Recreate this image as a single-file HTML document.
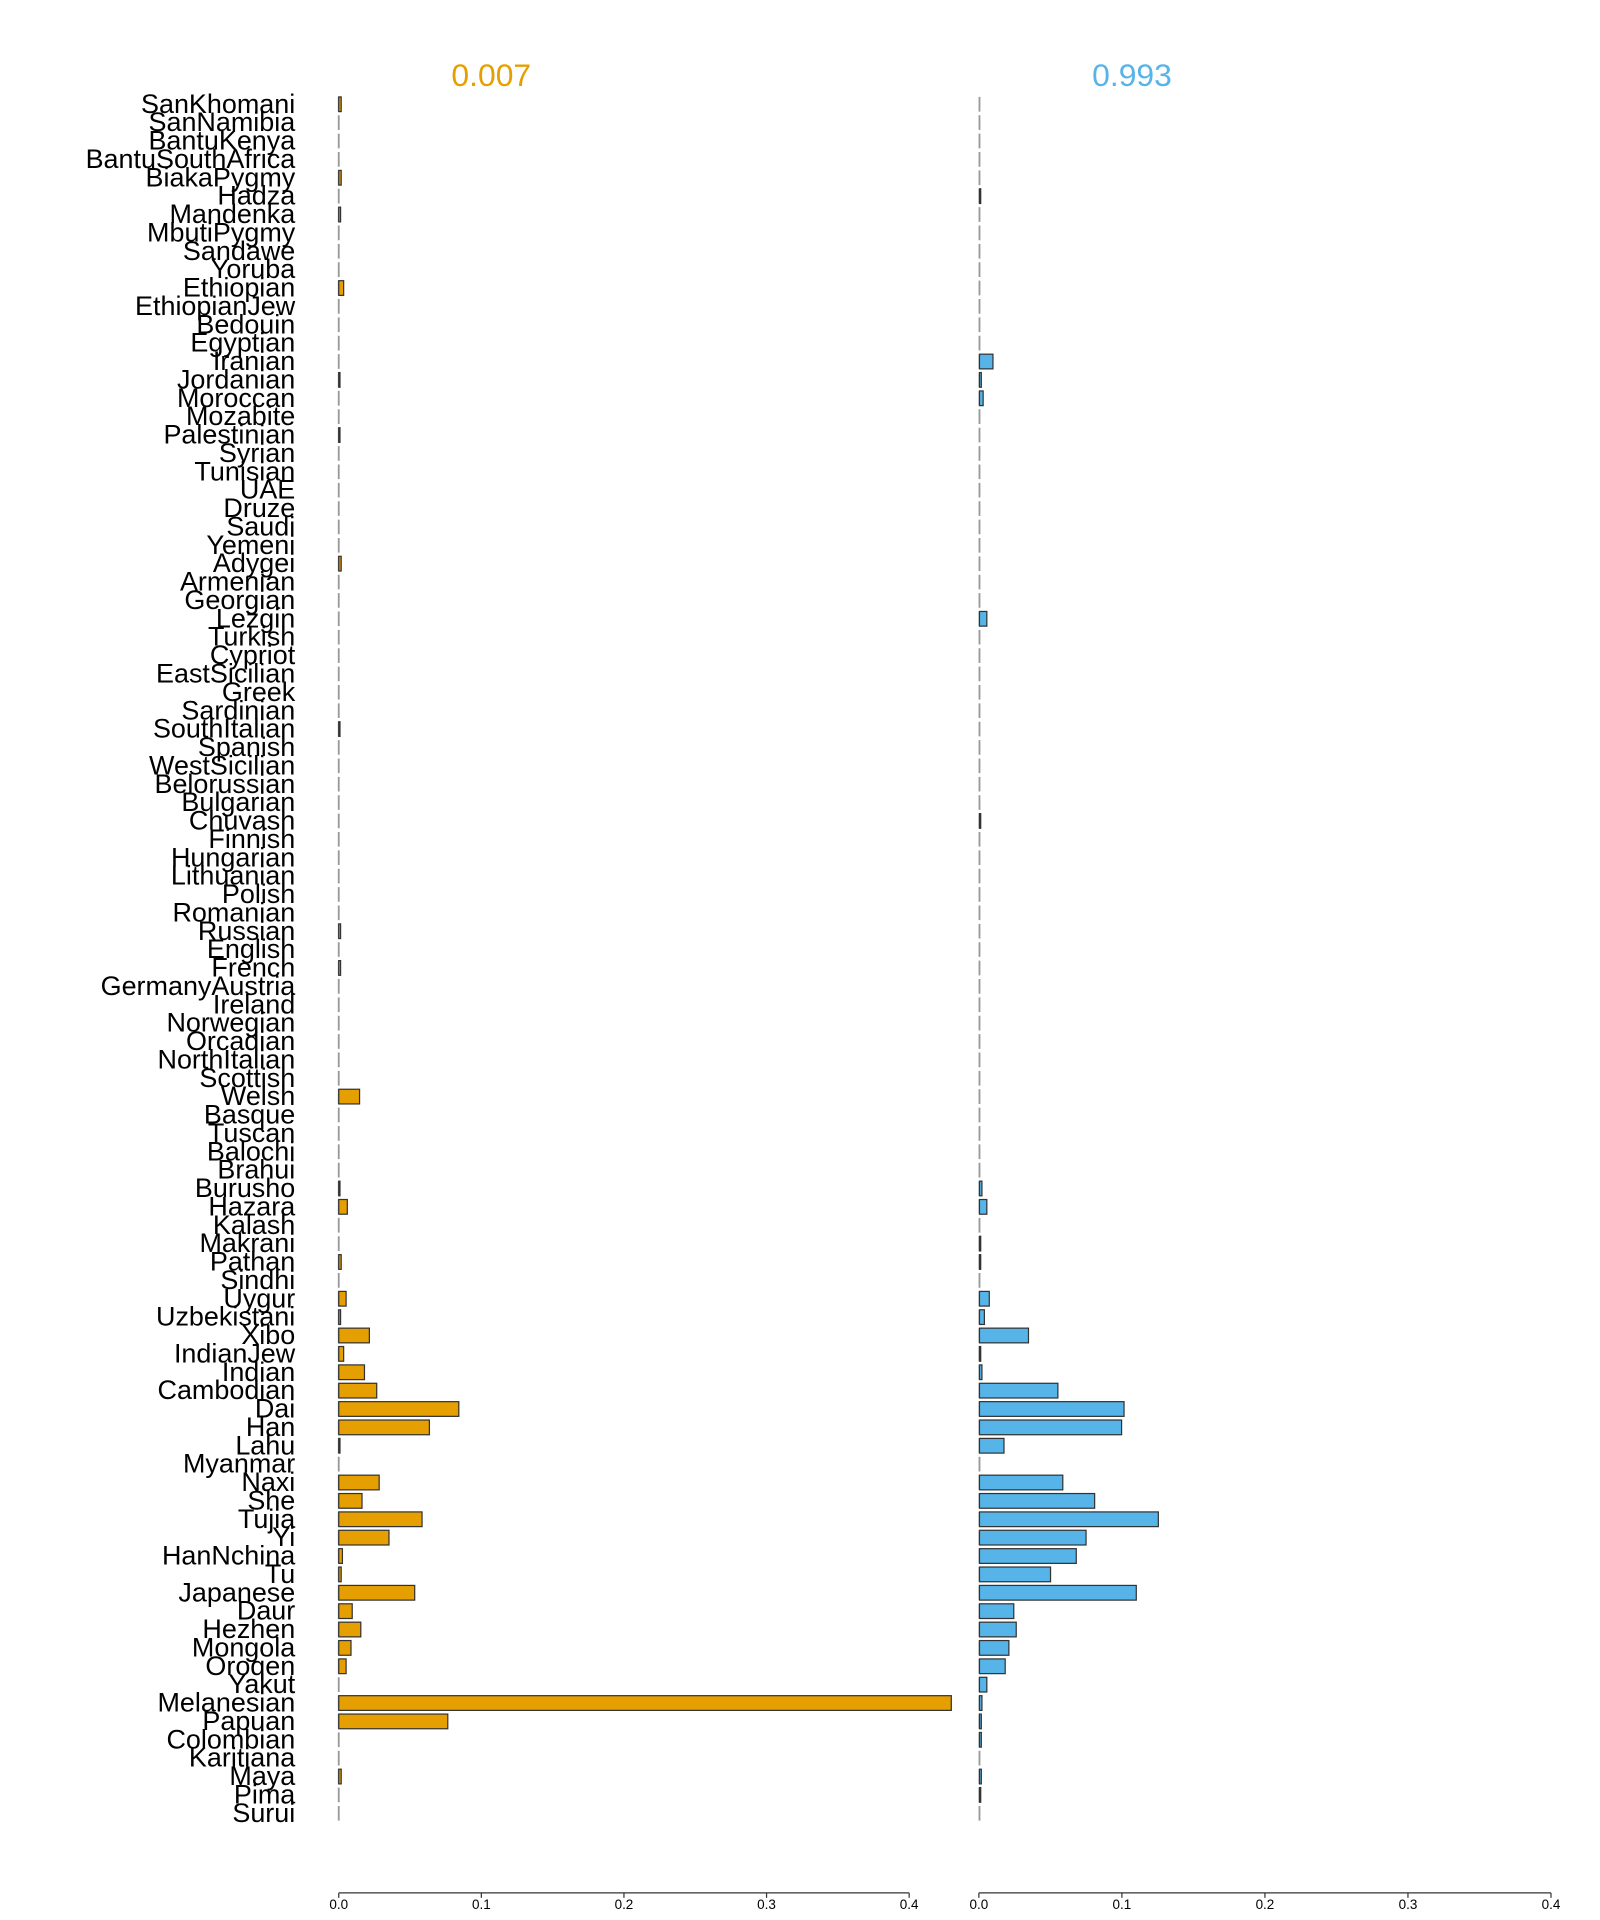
<!DOCTYPE html>
<html><head><meta charset="utf-8"><style>html,body{margin:0;padding:0;background:#fff}svg{display:block}</style></head>
<body>
<svg width="1600" height="1920" viewBox="0 0 1306 1567" xmlns="http://www.w3.org/2000/svg" font-family="Liberation Sans, Arial, sans-serif">
<rect width="1306" height="1567" fill="#fff"/>
<text x="401" y="70" font-size="26" fill="#E69F00" text-anchor="middle">0.007</text>
<text x="924" y="70" font-size="26" fill="#56B4E9" text-anchor="middle">0.993</text>
<line x1="276.5" y1="79" x2="276.5" y2="1488" stroke="#999" stroke-width="1.5" stroke-dasharray="12 3"/>
<line x1="799.5" y1="79" x2="799.5" y2="1488" stroke="#999" stroke-width="1.5" stroke-dasharray="12 3"/>
<g font-size="22" text-anchor="end" fill="#000">
<text x="241" y="92">SanKhomani</text><text x="241" y="107">SanNamibia</text><text x="241" y="122">BantuKenya</text><text x="241" y="137">BantuSouthAfrica</text><text x="241" y="152">BiakaPygmy</text><text x="241" y="167">Hadza</text><text x="241" y="182">Mandenka</text><text x="241" y="197">MbutiPygmy</text><text x="241" y="212">Sandawe</text><text x="241" y="227">Yoruba</text><text x="241" y="242">Ethiopian</text><text x="241" y="257">EthiopianJew</text><text x="241" y="272">Bedouin</text><text x="241" y="287">Egyptian</text><text x="241" y="302">Iranian</text><text x="241" y="317">Jordanian</text><text x="241" y="332">Moroccan</text><text x="241" y="347">Mozabite</text><text x="241" y="362">Palestinian</text><text x="241" y="377">Syrian</text><text x="241" y="392">Tunisian</text><text x="241" y="407">UAE</text><text x="241" y="422">Druze</text><text x="241" y="437">Saudi</text><text x="241" y="452">Yemeni</text><text x="241" y="467">Adygei</text><text x="241" y="482">Armenian</text><text x="241" y="497">Georgian</text><text x="241" y="512">Lezgin</text><text x="241" y="527">Turkish</text><text x="241" y="542">Cypriot</text><text x="241" y="557">EastSicilian</text><text x="241" y="572">Greek</text><text x="241" y="587">Sardinian</text><text x="241" y="602">SouthItalian</text><text x="241" y="617">Spanish</text><text x="241" y="632">WestSicilian</text><text x="241" y="647">Belorussian</text><text x="241" y="662">Bulgarian</text><text x="241" y="677">Chuvash</text><text x="241" y="692">Finnish</text><text x="241" y="707">Hungarian</text><text x="241" y="722">Lithuanian</text><text x="241" y="737">Polish</text><text x="241" y="752">Romanian</text><text x="241" y="767">Russian</text><text x="241" y="782">English</text><text x="241" y="797">French</text><text x="241" y="812">GermanyAustria</text><text x="241" y="827">Ireland</text><text x="241" y="842">Norwegian</text><text x="241" y="857">Orcadian</text><text x="241" y="872">NorthItalian</text><text x="241" y="887">Scottish</text><text x="241" y="902">Welsh</text><text x="241" y="917">Basque</text><text x="241" y="932">Tuscan</text><text x="241" y="947">Balochi</text><text x="241" y="962">Brahui</text><text x="241" y="977">Burusho</text><text x="241" y="992">Hazara</text><text x="241" y="1007">Kalash</text><text x="241" y="1022">Makrani</text><text x="241" y="1037">Pathan</text><text x="241" y="1052">Sindhi</text><text x="241" y="1067">Uygur</text><text x="241" y="1082">Uzbekistani</text><text x="241" y="1097">Xibo</text><text x="241" y="1112">IndianJew</text><text x="241" y="1127">Indian</text><text x="241" y="1142">Cambodian</text><text x="241" y="1157">Dai</text><text x="241" y="1172">Han</text><text x="241" y="1187">Lahu</text><text x="241" y="1202">Myanmar</text><text x="241" y="1217">Naxi</text><text x="241" y="1232">She</text><text x="241" y="1247">Tujia</text><text x="241" y="1262">Yi</text><text x="241" y="1277">HanNchina</text><text x="241" y="1292">Tu</text><text x="241" y="1307">Japanese</text><text x="241" y="1322">Daur</text><text x="241" y="1337">Hezhen</text><text x="241" y="1352">Mongola</text><text x="241" y="1367">Oroqen</text><text x="241" y="1382">Yakut</text><text x="241" y="1397">Melanesian</text><text x="241" y="1412">Papuan</text><text x="241" y="1427">Colombian</text><text x="241" y="1442">Karitiana</text><text x="241" y="1457">Maya</text><text x="241" y="1472">Pima</text><text x="241" y="1487">Surui</text>
</g>
<g fill="#E69F00" stroke="#333" stroke-width="1">
<rect x="276.5" y="79" width="2" height="12"/>
<rect x="276.5" y="139" width="2" height="12"/>
<rect x="276.5" y="169" width="1.5" height="12"/>
<rect x="276.5" y="229" width="4" height="12"/>
<rect x="276.5" y="304" width="1" height="12"/>
<rect x="276.5" y="349" width="1" height="12"/>
<rect x="276.5" y="454" width="2" height="12"/>
<rect x="276.5" y="589" width="1" height="12"/>
<rect x="276.5" y="754" width="1.5" height="12"/>
<rect x="276.5" y="784" width="1.5" height="12"/>
<rect x="276.5" y="889" width="17" height="12"/>
<rect x="276.5" y="964" width="1" height="12"/>
<rect x="276.5" y="979" width="7" height="12"/>
<rect x="276.5" y="1024" width="2" height="12"/>
<rect x="276.5" y="1054" width="6" height="12"/>
<rect x="276.5" y="1069" width="1.5" height="12"/>
<rect x="276.5" y="1084" width="25" height="12"/>
<rect x="276.5" y="1099" width="4" height="12"/>
<rect x="276.5" y="1114" width="21" height="12"/>
<rect x="276.5" y="1129" width="31" height="12"/>
<rect x="276.5" y="1144" width="98" height="12"/>
<rect x="276.5" y="1159" width="74" height="12"/>
<rect x="276.5" y="1174" width="1" height="12"/>
<rect x="276.5" y="1204" width="33" height="12"/>
<rect x="276.5" y="1219" width="19" height="12"/>
<rect x="276.5" y="1234" width="68" height="12"/>
<rect x="276.5" y="1249" width="41" height="12"/>
<rect x="276.5" y="1264" width="3" height="12"/>
<rect x="276.5" y="1279" width="2" height="12"/>
<rect x="276.5" y="1294" width="62" height="12"/>
<rect x="276.5" y="1309" width="11" height="12"/>
<rect x="276.5" y="1324" width="18" height="12"/>
<rect x="276.5" y="1339" width="10" height="12"/>
<rect x="276.5" y="1354" width="6" height="12"/>
<rect x="276.5" y="1384" width="500" height="12"/>
<rect x="276.5" y="1399" width="89" height="12"/>
<rect x="276.5" y="1444" width="2" height="12"/>
</g>
<g fill="#56B4E9" stroke="#333" stroke-width="1">
<rect x="799.5" y="154" width="1" height="12"/>
<rect x="799.5" y="289" width="11" height="12"/>
<rect x="799.5" y="304" width="1.5" height="12"/>
<rect x="799.5" y="319" width="3" height="12"/>
<rect x="799.5" y="499" width="6" height="12"/>
<rect x="799.5" y="664" width="1" height="12"/>
<rect x="799.5" y="964" width="2" height="12"/>
<rect x="799.5" y="979" width="6" height="12"/>
<rect x="799.5" y="1009" width="1" height="12"/>
<rect x="799.5" y="1024" width="1" height="12"/>
<rect x="799.5" y="1054" width="8" height="12"/>
<rect x="799.5" y="1069" width="4" height="12"/>
<rect x="799.5" y="1084" width="40" height="12"/>
<rect x="799.5" y="1099" width="1" height="12"/>
<rect x="799.5" y="1114" width="2" height="12"/>
<rect x="799.5" y="1129" width="64" height="12"/>
<rect x="799.5" y="1144" width="118" height="12"/>
<rect x="799.5" y="1159" width="116" height="12"/>
<rect x="799.5" y="1174" width="20" height="12"/>
<rect x="799.5" y="1204" width="68" height="12"/>
<rect x="799.5" y="1219" width="94" height="12"/>
<rect x="799.5" y="1234" width="146" height="12"/>
<rect x="799.5" y="1249" width="87" height="12"/>
<rect x="799.5" y="1264" width="79" height="12"/>
<rect x="799.5" y="1279" width="58" height="12"/>
<rect x="799.5" y="1294" width="128" height="12"/>
<rect x="799.5" y="1309" width="28" height="12"/>
<rect x="799.5" y="1324" width="30" height="12"/>
<rect x="799.5" y="1339" width="24" height="12"/>
<rect x="799.5" y="1354" width="21" height="12"/>
<rect x="799.5" y="1369" width="6" height="12"/>
<rect x="799.5" y="1384" width="2" height="12"/>
<rect x="799.5" y="1399" width="1.5" height="12"/>
<rect x="799.5" y="1414" width="1.5" height="12"/>
<rect x="799.5" y="1444" width="1.5" height="12"/>
<rect x="799.5" y="1459" width="1" height="12"/>
</g>
<g stroke="#333" stroke-width="1" fill="none">
<line x1="276.5" y1="1545" x2="742.1" y2="1545"/>
<line x1="276.5" y1="1545" x2="276.5" y2="1549"/><line x1="392.9" y1="1545" x2="392.9" y2="1549"/><line x1="509.3" y1="1545" x2="509.3" y2="1549"/><line x1="625.7" y1="1545" x2="625.7" y2="1549"/><line x1="742.1" y1="1545" x2="742.1" y2="1549"/>
<line x1="799" y1="1545" x2="1266" y2="1545"/>
<line x1="799" y1="1545" x2="799" y2="1549"/><line x1="915.75" y1="1545" x2="915.75" y2="1549"/><line x1="1032.5" y1="1545" x2="1032.5" y2="1549"/><line x1="1149.25" y1="1545" x2="1149.25" y2="1549"/><line x1="1266" y1="1545" x2="1266" y2="1549"/>
</g>
<g font-size="11" text-anchor="middle" fill="#000">
<text x="276.5" y="1558">0.0</text><text x="392.9" y="1558">0.1</text><text x="509.3" y="1558">0.2</text><text x="625.7" y="1558">0.3</text><text x="742.1" y="1558">0.4</text>
<text x="799" y="1558">0.0</text><text x="915.75" y="1558">0.1</text><text x="1032.5" y="1558">0.2</text><text x="1149.25" y="1558">0.3</text><text x="1266" y="1558">0.4</text>
</g>
</svg>
</body></html>
